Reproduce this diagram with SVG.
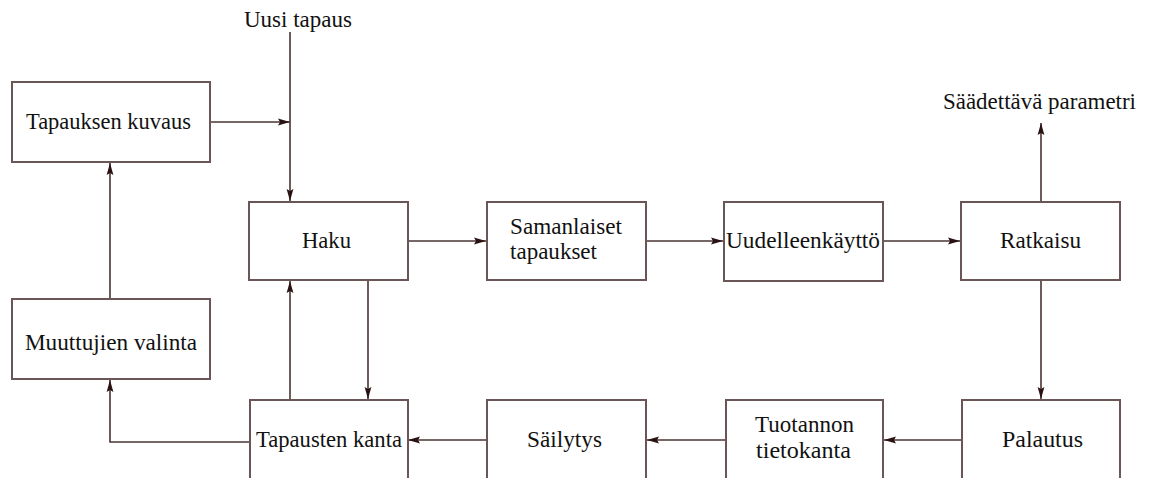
<svg xmlns="http://www.w3.org/2000/svg" width="1149" height="478" viewBox="0 0 1149 478">
<style>
.box{fill:#fff;stroke:#6a5656;stroke-width:2}
.ln{fill:none;stroke:#4a3434;stroke-width:1.6}
.t{font-family:"Liberation Serif","Times New Roman",serif;font-size:22.5px;fill:#111}
</style>
<defs>
<marker id="ah" markerUnits="userSpaceOnUse" markerWidth="14" markerHeight="8" refX="12" refY="4" orient="auto">
<path d="M0,0.6 L12,4 L0,7.4 L2,4 z" fill="#2a1212"/>
</marker>
</defs>
<rect width="1149" height="478" fill="#fff"/>
<g id="connectors">
<line class="ln" x1="290" y1="32" x2="290" y2="201" marker-end="url(#ah)"/>
<line class="ln" x1="210" y1="122" x2="290" y2="122" marker-end="url(#ah)"/>
<line class="ln" x1="110" y1="299" x2="110" y2="163" marker-end="url(#ah)"/>
<line class="ln" x1="408" y1="241" x2="486" y2="241" marker-end="url(#ah)"/>
<line class="ln" x1="646" y1="241" x2="723" y2="241" marker-end="url(#ah)"/>
<line class="ln" x1="883" y1="241" x2="960" y2="241" marker-end="url(#ah)"/>
<line class="ln" x1="1041" y1="202" x2="1041" y2="123" marker-end="url(#ah)"/>
<line class="ln" x1="1041" y1="280" x2="1041" y2="399" marker-end="url(#ah)"/>
<line class="ln" x1="962" y1="440" x2="884" y2="440" marker-end="url(#ah)"/>
<line class="ln" x1="726" y1="440" x2="647" y2="440" marker-end="url(#ah)"/>
<line class="ln" x1="487" y1="440" x2="408" y2="440" marker-end="url(#ah)"/>
<polyline class="ln" points="250,442 110,442 110,380" marker-end="url(#ah)"/>
<line class="ln" x1="290" y1="400" x2="290" y2="281" marker-end="url(#ah)"/>
<line class="ln" x1="368" y1="280" x2="368" y2="399" marker-end="url(#ah)"/>
</g>
<g id="uusi-tapaus"><text class="t" x="244" y="27" textLength="108" lengthAdjust="spacingAndGlyphs">Uusi tapaus</text></g>
<g id="saadettava"><text class="t" x="943" y="109" textLength="193" lengthAdjust="spacingAndGlyphs">Säädettävä parametri</text></g>
<g id="tapauksen-kuvaus">
<rect class="box" x="12" y="82" width="198" height="80"/>
<text class="t" x="26" y="129" textLength="165" lengthAdjust="spacingAndGlyphs">Tapauksen kuvaus</text>
</g>
<g id="muuttujien-valinta">
<rect class="box" x="12" y="299" width="198" height="80"/>
<text class="t" x="25" y="350" textLength="172" lengthAdjust="spacingAndGlyphs">Muuttujien valinta</text>
</g>
<g id="haku">
<rect class="box" x="249" y="202" width="159" height="78"/>
<text class="t" x="302" y="248" textLength="49" lengthAdjust="spacingAndGlyphs">Haku</text>
</g>
<g id="samanlaiset">
<rect class="box" x="487" y="202" width="159" height="78"/>
<text class="t" x="510" y="234" textLength="112" lengthAdjust="spacingAndGlyphs">Samanlaiset</text>
<text class="t" x="510" y="259" textLength="87" lengthAdjust="spacingAndGlyphs">tapaukset</text>
</g>
<g id="uudelleenkaytto">
<rect class="box" x="724" y="202" width="159" height="79"/>
<text class="t" x="726" y="248" textLength="154" lengthAdjust="spacingAndGlyphs">Uudelleenkäyttö</text>
</g>
<g id="ratkaisu">
<rect class="box" x="961" y="202" width="159" height="78"/>
<text class="t" x="1000" y="248" textLength="81" lengthAdjust="spacingAndGlyphs">Ratkaisu</text>
</g>
<g id="tapausten-kanta">
<rect class="box" x="250" y="400" width="158" height="82"/>
<text class="t" x="256" y="447" textLength="146" lengthAdjust="spacingAndGlyphs">Tapausten kanta</text>
</g>
<g id="sailytys">
<rect class="box" x="487" y="400" width="159" height="82"/>
<text class="t" x="527" y="447" textLength="75" lengthAdjust="spacingAndGlyphs">Säilytys</text>
</g>
<g id="tuotannon-tietokanta">
<rect class="box" x="726" y="400" width="157" height="82"/>
<text class="t" x="755" y="432" textLength="99" lengthAdjust="spacingAndGlyphs">Tuotannon</text>
<text class="t" x="756" y="458" textLength="95" lengthAdjust="spacingAndGlyphs">tietokanta</text>
</g>
<g id="palautus">
<rect class="box" x="962" y="400" width="158" height="82"/>
<text class="t" x="1002" y="447" textLength="81" lengthAdjust="spacingAndGlyphs">Palautus</text>
</g>
</svg>
